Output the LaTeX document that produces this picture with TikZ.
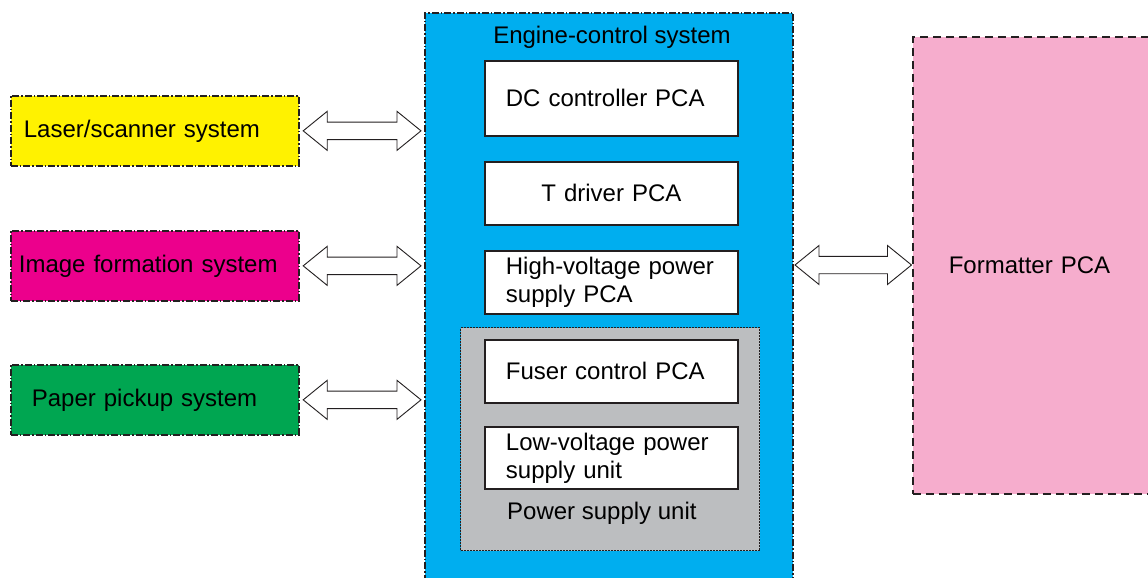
\documentclass[tikz,border=0pt]{standalone}
\usepackage{fontspec}
\setmainfont{Liberation Sans}
\usetikzlibrary{calc}
\definecolor{cyel}{HTML}{FFF200}
\definecolor{cmag}{HTML}{EC008C}
\definecolor{cgrn}{HTML}{00A651}
\definecolor{cblu}{HTML}{00AEEF}
\definecolor{cgry}{HTML}{BCBEC0}
\definecolor{cpnk}{HTML}{F6ADCD}
\definecolor{cbrd}{HTML}{231F20}
\tikzset{
  sysbox/.style={draw=cbrd, line width=1.7pt, dash pattern=on 7pt off 2pt on 1.5pt off 2pt,
    anchor=north west, minimum width=288, minimum height=70, inner ysep=0pt, align=left},
  pcabox/.style={draw=cbrd, line width=1.8pt, fill=white, anchor=north west,
    minimum width=253, inner ysep=0pt, inner xsep=21pt, text width=211pt, align=left},
  barrow/.style={draw=cbrd, line width=0.9pt, fill=white, line join=miter},
  txt/.style={inner sep=0pt}
}
\newcommand\dbarrow[2]{%
  \draw[barrow] let \p1=(#1), \p2=(#2) in
  (\x1,\y1) -- (\x1+24pt,\y1+19.5pt) -- (\x1+24pt,\y1+8.7pt) -- (\x2-24pt,\y1+8.7pt)
  -- (\x2-24pt,\y1+19.5pt) -- (\x2,\y1) -- (\x2-24pt,\y1-19.5pt) -- (\x2-24pt,\y1-8.7pt)
  -- (\x1+24pt,\y1-8.7pt) -- (\x1+24pt,\y1-19.5pt) -- cycle;}
\begin{document}
\begin{tikzpicture}[x=1pt,y=-1pt,font=\fontsize{24}{28}\selectfont]
\clip (0,0) rectangle (1148,578);
\fill[white] (0,0) rectangle (1148,578);
% engine-control system
\node[draw=cbrd, line width=2pt, fill=cblu, dash pattern=on 7pt off 2pt on 1.5pt off 2pt,
  anchor=north west, minimum width=368, minimum height=590, inner sep=0pt] (engine) at (424,12) {};
\node[txt] (engtitle) at (612,37) {Engine-control system};
\node[pcabox, minimum height=75] (dc) at (484,60) {DC controller PCA};
\node[pcabox, minimum height=63, align=center] (tdrv) at (484,161) {T driver PCA};
\node[pcabox, minimum height=63] (hv) at (484,250) {High-voltage power\\supply PCA};
% power supply unit
\node[draw=cbrd, line width=1.3pt, fill=cgry, dash pattern=on 2pt off 1pt,
  anchor=north west, minimum width=299, minimum height=223, inner sep=0pt] (psu) at (460,327) {};
\node[pcabox, minimum height=63] (fuser) at (484,339) {Fuser control PCA};
\node[pcabox, minimum height=62] (lv) at (484,426) {Low-voltage power\\supply unit};
\node[txt, anchor=west] (psulabel) at (507,513) {Power supply unit};
% left systems
\node[sysbox, fill=cyel, inner xsep=13pt, text width=262pt] (laser) at (10,95) {Laser/scanner system};
\node[sysbox, fill=cmag, inner xsep=8pt, text width=272pt] (image) at (10,230) {Image formation system};
\node[sysbox, fill=cgrn, inner xsep=21pt, text width=246pt] (paper) at (10,364) {Paper pickup system};
% formatter
\node[draw=cbrd, line width=1.6pt, fill=cpnk, dash pattern=on 8pt off 5pt,
  anchor=north west, minimum width=260, minimum height=457, inner ysep=0pt,
  inner xsep=36pt, text width=188pt, align=left] (fmt) at (912,36) {Formatter PCA};
% arrows
\coordinate (a1) at ($(laser.east)+(3.5,0)$);
\coordinate (b1) at ($(laser.east -| engine.west)+(-3,0)$);
\coordinate (a2) at ($(image.east)+(3.5,0)$);
\coordinate (b2) at ($(image.east -| engine.west)+(-3,0)$);
\coordinate (a3) at ($(paper.east)+(3.5,0)$);
\coordinate (b3) at ($(paper.east -| engine.west)+(-3,0)$);
\coordinate (a4) at ($(engine.east |- 0,265)+(1,0)$);
\coordinate (b4) at ($(fmt.west |- 0,265)+(-0.5,0)$);
\dbarrow{a1}{b1}
\dbarrow{a2}{b2}
\dbarrow{a3}{b3}
\dbarrow{a4}{b4}
\end{tikzpicture}
\end{document}
